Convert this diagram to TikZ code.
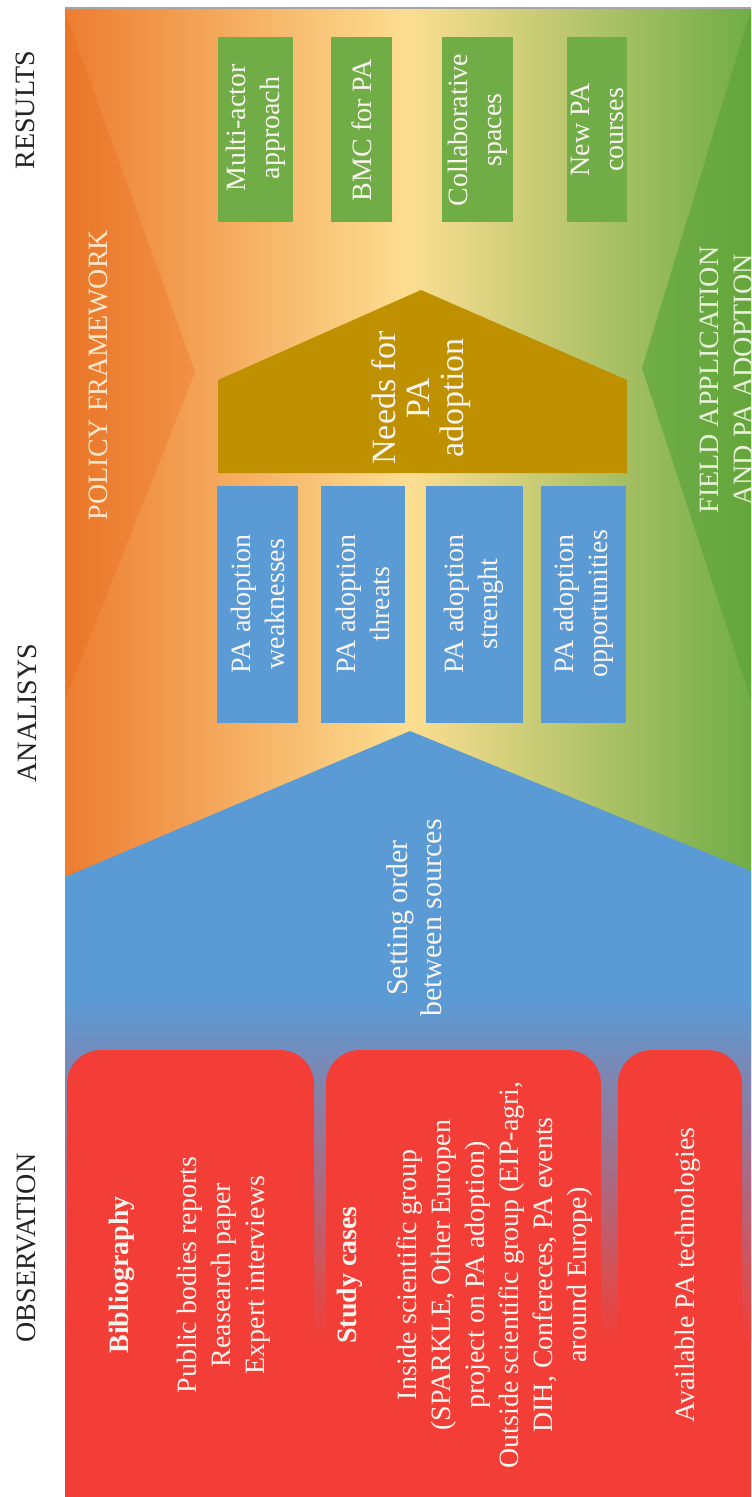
\documentclass[tikz,border=0pt]{standalone}
\usepackage{fontspec}
\setmainfont{Liberation Serif}
\definecolor{corange}{RGB}{237,125,49}
\definecolor{cyellow}{RGB}{253,222,145}
\definecolor{cgreen}{RGB}{112,173,71}
\definecolor{triorangeA}{RGB}{234,118,40}
\definecolor{triorangeB}{RGB}{241,145,68}
\definecolor{trigreenA}{RGB}{112,173,71}
\definecolor{trigreenB}{RGB}{100,166,60}
\definecolor{cblue}{RGB}{91,155,213}
\definecolor{cgold}{RGB}{191,144,0}
\definecolor{cred}{RGB}{242,62,55}
\definecolor{boxwhite}{RGB}{250,244,238}
\definecolor{labelgray}{RGB}{35,35,35}
\definecolor{policytext}{RGB}{255,232,205}
\definecolor{fieldtext}{RGB}{232,242,218}
\begin{document}
\begin{tikzpicture}[x=0.5pt,y=-0.5pt,
  lbl/.style={rotate=90, text=labelgray, inner sep=0pt,
    font=\fontsize{14}{17}\selectfont},
  boxtext/.style={rotate=90, align=center, text=boxwhite, inner sep=0pt,
    font=\fontsize{14}{17}\selectfont},
  resultbox/.style={fill=cgreen},
  swotbox/.style={fill=cblue},
  sourcebox/.style={fill=cred, rounded corners=17pt}]

% page size
\useasboundingbox (0,0) rectangle (751,1497);

% stage labels at the left margin
\node[lbl] (results) at (25,110) {RESULTS};
\node[lbl] (analysis) at (27,713) {ANALISYS};
\node[lbl] (observation) at (26,1248) {OBSERVATION};

\begin{scope}
\clip (65,8) rectangle (751,1497);
% background: orange -> pale yellow -> green
\shade[left color=corange, right color=cgreen, middle color=cyellow]
  (65,8) rectangle (751,1497);
% side wedges
\shade[left color=triorangeA, right color=triorangeB]
  (65,12) -- (195,372) -- (65,700) -- cycle;
\shade[left color=trigreenA, right color=trigreenB]
  (751,10) -- (642,368) -- (751,700) -- cycle;

% sources block: blue arrow fading into red
\fill[cblue] (65,877) -- (410,731) -- (751,871) -- (751,1002) -- (65,1002) -- cycle;
\shade[top color=cblue, bottom color=cred] (65,1000) rectangle (751,1340);
\fill[cred] (65,1338) rectangle (751,1497);

% observation boxes
\fill[sourcebox] (67,1050) rectangle (314,1560);
\fill[sourcebox] (326,1050) rectangle (601,1560);
\fill[sourcebox] (618,1050) rectangle (742,1560);

% analysis boxes
\fill[swotbox] (217,486) rectangle (298,723);
\fill[swotbox] (321,486) rectangle (405,723);
\fill[swotbox] (426,486) rectangle (523,723);
\fill[swotbox] (541,486) rectangle (626,723);

% needs pentagon
\fill[cgold] (218,473) -- (218,380) -- (421,290) -- (627,380) -- (627,473) -- cycle;

% result boxes
\fill[resultbox] (218,37) rectangle (293,222);
\fill[resultbox] (331,37) rectangle (392,222);
\fill[resultbox] (442,37) rectangle (513,222);
\fill[resultbox] (567,37) rectangle (627,222);

% wedge captions
\node[lbl, text=policytext] (policy) at (98,375) {POLICY FRAMEWORK};
\node[lbl, text=fieldtext, align=center] (field) at (726,380)
  {FIELD APPLICATION\\AND PA ADOPTION};
\end{scope}
\draw[black!35, line width=1pt] (65,8) -- (751,8);

% results
\node[boxtext] (multi) at (256,128) {Multi-actor\\approach};
\node[boxtext] (bmc) at (362,130) {BMC for PA};
\node[boxtext] (collab) at (478,130) {Collaborative\\spaces};
\node[boxtext] (courses) at (597,130) {New PA\\courses};

% needs
\node[boxtext, font=\fontsize{17}{17}\selectfont] (needs) at (421,398)
  {Needs for\\PA\\adoption};

% analysis
\node[boxtext] (weak) at (258,604) {PA adoption\\weaknesses};
\node[boxtext] (threat) at (363,604) {PA adoption\\threats};
\node[boxtext] (strength) at (474,604) {PA adoption\\strenght};
\node[boxtext] (opport) at (584,604) {PA adoption\\opportunities};

% ordering
\node[boxtext, font=\fontsize{15}{17}\selectfont] (order) at (414,918)
  {Setting order\\between sources};

% observation
\node[boxtext] (biblio) at (190,1275)
  {\textbf{Bibliography}\\[17pt]Public bodies reports\\Reasearch paper\\Expert interviews};
\node[boxtext] (cases) at (465,1275)
  {\textbf{Study cases}\\[13pt]Inside scientific group\\(SPARKLE, Other Europen\\project on PA adoption)\\Outside scientific group (EIP-agri,\\DIH, Confereces, PA events\\around Europe)};
\node[boxtext] (tech) at (688,1275) {Available PA technologies};
\end{tikzpicture}
\end{document}
